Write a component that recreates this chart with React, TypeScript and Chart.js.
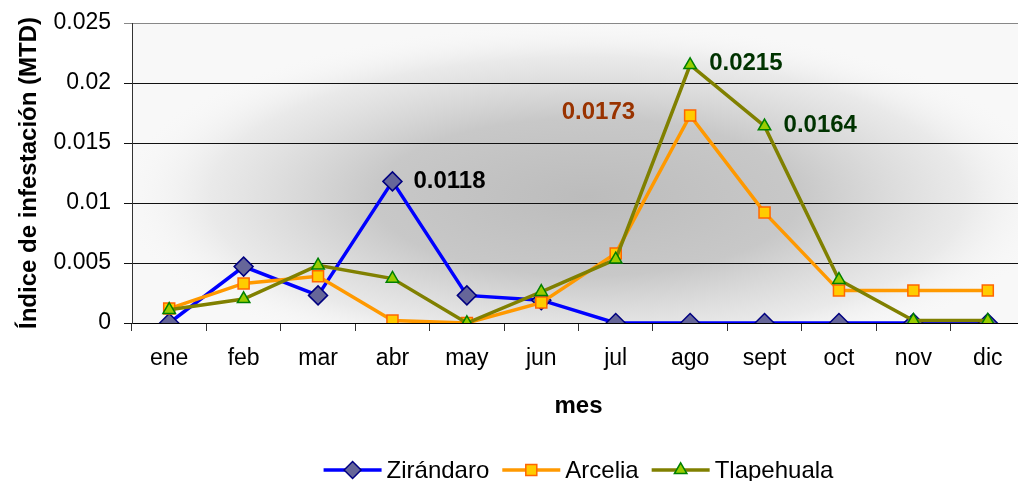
import React, { useEffect, useRef } from 'react';
import { Chart, registerables } from 'chart.js';

Chart.register(...registerables);

// ---- data ----
const months = ['ene', 'feb', 'mar', 'abr', 'may', 'jun', 'jul', 'ago', 'sept', 'oct', 'nov', 'dic'];
const zirandaro = [0, 0.0047, 0.0023, 0.0118, 0.0023, 0.0019, 0, 0, 0, 0, 0, 0];
const arcelia = [0.0012, 0.0033, 0.0039, 0.0002, 0, 0.0017, 0.0058, 0.0173, 0.0092, 0.0027, 0.0027, 0.0027];
const tlapehuala = [0.0011, 0.002, 0.0048, 0.0037, 0, 0.0026, 0.0053, 0.0215, 0.0164, 0.0036, 0.0002, 0.0002];
const yTickValues = [0, 0.005, 0.01, 0.015, 0.02, 0.025];
const seriesNames = ['Zirándaro', 'Arcelia', 'Tlapehuala'];
const yTitle = 'Índice de infestación (MTD)';
const xTitle = 'mes';
// annotated points: [series index, month index]
const annotatedSeries = [0, 1, 2, 2];
const annotatedMonths = [3, 7, 7, 8];

// ---- styles ----
const FONT = '"Liberation Sans", Arial, sans-serif';
const CANVAS_W = 1036;
const lineColors = ['#0000FF', '#FF9900', '#808000'];
const pointFills = ['#666699', '#FFCC00', '#99CC00'];
const pointBorders = ['#000080', '#FF6600', '#008000'];
const pointStyles = ['rectRot', 'rect', 'triangle'];
const pointRadii = [9.5, 7.8, 7.2];
const annColors = ['#000000', '#993300', '#003300', '#003300'];
const annDx = [21, -55, 19, 19];
const annAlign = ['left', 'right', 'left', 'left'];
const annDy = [0, -3, -2, -1];

const allSeries = [zirandaro, arcelia, tlapehuala];

function drawMarker(ctx: CanvasRenderingContext2D, i: number, x: number, y: number) {
  ctx.save();
  ctx.fillStyle = pointFills[i];
  ctx.strokeStyle = pointBorders[i];
  ctx.lineWidth = 1.5;
  ctx.beginPath();
  if (i === 0) {
    const r = 8.5;
    ctx.moveTo(x - r, y);
    ctx.lineTo(x, y - r);
    ctx.lineTo(x + r, y);
    ctx.lineTo(x, y + r);
    ctx.closePath();
  } else if (i === 1) {
    const h = 5.5;
    ctx.rect(x - h, y - h, 2 * h, 2 * h);
  } else {
    const r = 7.2;
    ctx.moveTo(x, y - r);
    ctx.lineTo(x + r * 0.866, y + r / 2);
    ctx.lineTo(x - r * 0.866, y + r / 2);
    ctx.closePath();
  }
  ctx.fill();
  ctx.stroke();
  ctx.restore();
}

const bgPlugin = {
  id: 'bgGradient',
  beforeDraw(chart: any) {
    const { ctx, chartArea: a } = chart;
    ctx.save();
    ctx.beginPath();
    ctx.rect(a.left, a.top, a.right - a.left, a.bottom - a.top);
    ctx.clip();
    ctx.fillStyle = '#f8f8f8';
    ctx.fillRect(a.left, a.top, a.right - a.left, a.bottom - a.top);
    const cx = a.left + (a.right - a.left) * 0.51;
    const cy = a.top + (a.bottom - a.top) * 0.58;
    const ry = 175;
    ctx.translate(cx, cy);
    ctx.scale(2.7, 1);
    const g = ctx.createRadialGradient(0, 0, 0, 0, 0, ry);
    g.addColorStop(0, 'rgba(188,188,188,1)');
    g.addColorStop(0.45, 'rgba(200,200,200,1)');
    g.addColorStop(0.8, 'rgba(230,230,230,0.8)');
    g.addColorStop(1, 'rgba(248,248,248,0)');
    ctx.fillStyle = g;
    ctx.fillRect(-2000, -2000, 4000, 4000);
    ctx.restore();
  },
};

const overlayPlugin = {
  id: 'overlay',
  afterDatasetsDraw(chart: any) {
    const ctx = chart.ctx as CanvasRenderingContext2D;
    ctx.save();
    ctx.font = `bold 24px ${FONT}`;
    ctx.textBaseline = 'middle';
    for (let k = 0; k < annotatedSeries.length; k++) {
      const s = annotatedSeries[k];
      const m = annotatedMonths[k];
      const el = chart.getDatasetMeta(s).data[m];
      ctx.fillStyle = annColors[k];
      ctx.textAlign = annAlign[k] as CanvasTextAlign;
      ctx.fillText(String(allSeries[s][m]), el.x + annDx[k], el.y + annDy[k]);
    }
    ctx.restore();
  },
  afterDraw(chart: any) {
    const ctx = chart.ctx as CanvasRenderingContext2D;
    const a = chart.chartArea;
    ctx.save();
    ctx.fillStyle = '#000';
    // y title
    ctx.font = `bold 24px ${FONT}`;
    ctx.save();
    ctx.translate(36, (a.top + a.bottom) / 2);
    ctx.rotate(-Math.PI / 2);
    ctx.textAlign = 'center';
    ctx.textBaseline = 'alphabetic';
    ctx.fillText(yTitle, 0, 0);
    ctx.restore();
    // x title
    const midX = (a.left + a.right) / 2;
    ctx.textAlign = 'center';
    ctx.textBaseline = 'alphabetic';
    ctx.fillText(xTitle, midX, 413);
    // legend
    ctx.font = `24px ${FONT}`;
    const lineW = 58, gapText = 5, gapItem = 13;
    const widths = seriesNames.map((n) => ctx.measureText(n).width);
    const total = widths.reduce((p, w) => p + lineW + gapText + w, 0) + gapItem * (seriesNames.length - 1);
    let x = midX - total / 2;
    const ly = 470;
    for (let i = 0; i < seriesNames.length; i++) {
      ctx.strokeStyle = lineColors[i];
      ctx.lineWidth = 3.5;
      ctx.beginPath();
      ctx.moveTo(x, ly);
      ctx.lineTo(x + lineW, ly);
      ctx.stroke();
      drawMarker(ctx, i, x + lineW / 2, ly);
      x += lineW + gapText;
      ctx.fillStyle = '#000';
      ctx.textAlign = 'left';
      ctx.fillText(seriesNames[i], x, 478);
      x += widths[i] + gapItem;
    }
    ctx.restore();
  },
};

export default function App() {
  const canvasRef = useRef<HTMLCanvasElement | null>(null);

  useEffect(() => {
    document.body.style.margin = '0';
    document.body.style.overflow = 'hidden';
    const canvas = canvasRef.current;
    if (!canvas) return;
    const datasets = allSeries.map((data, i) => ({
      label: seriesNames[i],
      data,
      borderColor: lineColors[i],
      borderWidth: 3.5,
      backgroundColor: pointFills[i],
      pointBackgroundColor: pointFills[i],
      pointBorderColor: pointBorders[i],
      pointBorderWidth: 1.5,
      pointStyle: pointStyles[i],
      pointRadius: pointRadii[i],
      pointHoverRadius: pointRadii[i],
      tension: 0,
      fill: false,
      order: 2 - i,
    }));
    const chart = new Chart(canvas, {
      type: 'line',
      data: { labels: months, datasets },
      options: {
        responsive: false,
        animation: false,
        devicePixelRatio: 1,
        layout: { padding: { top: 23, left: 0, right: 0, bottom: 0 } },
        plugins: {
          legend: { display: false },
          title: { display: false },
          tooltip: { enabled: false },
        },
        scales: {
          x: {
            type: 'category',
            offset: true,
            grid: {
              display: true,
              offset: true,
              drawOnChartArea: false,
              drawTicks: true,
              tickLength: 8,
              color: '#333',
            },
            border: { display: true, color: '#000', width: 1 },
            ticks: {
              color: '#000',
              font: { family: FONT, size: 23 },
              padding: 14,
              maxRotation: 0,
              autoSkip: false,
            },
            afterFit: (scale: any) => {
              scale.height = 158;
              scale.paddingLeft = 0;
              scale.paddingRight = 0;
            },
          },
          y: {
            min: 0,
            max: 0.025,
            afterBuildTicks: (scale: any) => {
              scale.ticks = yTickValues.map((v) => ({ value: v }));
            },
            grid: {
              color: (c: any) => (c.tick && c.tick.value === 0.025 ? '#888' : '#111'),
              lineWidth: 1,
              drawTicks: true,
              tickLength: 8,
            },
            border: { display: true, color: '#333', width: 1 },
            ticks: {
              color: '#000',
              font: { family: FONT, size: 23 },
              padding: 13,
              callback: (v: any) => String(+Number(v).toFixed(3)),
            },
            afterFit: (scale: any) => {
              scale.width = 132;
              scale.paddingTop = 0;
              scale.paddingBottom = 0;
            },
          },
        },
      },
      plugins: [bgPlugin, overlayPlugin],
    });
    return () => chart.destroy();
  }, []);

  return (
    <div style={{ width: 1018, height: 481, overflow: 'hidden' }}>
      <canvas ref={canvasRef} width={CANVAS_W} height={481} style={{ display: 'block' }} />
    </div>
  );
}
